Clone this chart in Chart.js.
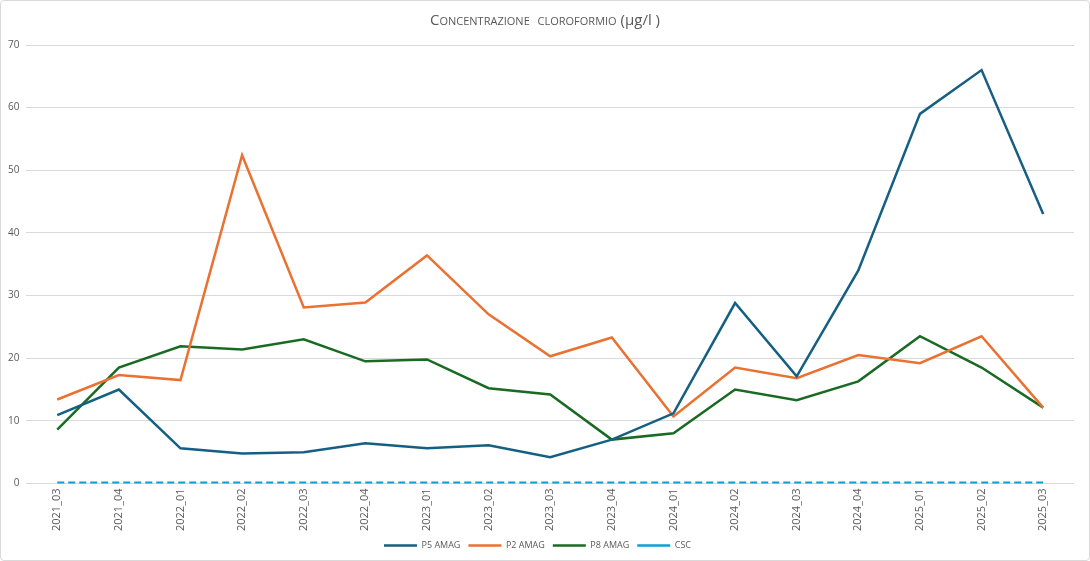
<!DOCTYPE html>
<html>
<head>
<meta charset="utf-8">
<script src="https://cdn.jsdelivr.net/npm/chart.js@4/dist/chart.umd.min.js"></script>
<style>
    html, body { margin: 0; padding: 0; background: #fff; }
    .chart-box {
        width: 1088px;
        height: 559px;
        border: 1px solid #d9d9d9;
        border-radius: 4px;
        position: relative;
    }
</style>
</head>
<body>
<div class="chart-box">
    <canvas id="chloroformChart"></canvas>
</div>
<script>
const categories = [
    '2021_03', '2021_04',
    '2022_01', '2022_02', '2022_03', '2022_04',
    '2023_01', '2023_02', '2023_03', '2023_04',
    '2024_01', '2024_02', '2024_03', '2024_04',
    '2025_01', '2025_02', '2025_03'
];

const p5Values = [10.9, 15.0, 5.6, 4.8, 5.0, 6.4, 5.6, 6.1, 4.2, 7.0, 11.2, 28.8, 17.1, 34.0, 59.0, 66.0, 43.0];
const p2Values = [13.4, 17.3, 16.5, 52.4, 28.1, 28.9, 36.4, 27.0, 20.3, 23.3, 10.7, 18.5, 16.8, 20.5, 19.2, 23.5, 12.1];
const p8Values = [8.6, 18.5, 21.9, 21.4, 23.0, 19.5, 19.8, 15.2, 14.2, 7.0, 8.0, 15.0, 13.3, 16.3, 23.5, 18.5, 12.1];
const cscValues = [0.1, 0.1, 0.1, 0.1, 0.1, 0.1, 0.1, 0.1, 0.1, 0.1, 0.1, 0.1, 0.1, 0.1, 0.1, 0.1, 0.1];

const yTicks = [0, 10, 20, 30, 40, 50, 60, 70];

const titleMain = 'Concentrazione  cloroformio ';
const titleUnit = '(µg/l )';

const textColor = '#595959';
const gridColor = '#d9d9d9';
const fontFamily = "'Open Sans', 'Liberation Sans', sans-serif";

function makeLine(label, data, color, dash) {
    return {
        label: label,
        data: data,
        borderColor: color,
        backgroundColor: color,
        borderWidth: 2.5,
        borderDash: dash || [],
        pointRadius: 0,
        pointHoverRadius: 0,
        tension: 0,
        fill: false
    };
}

// Title in small caps, but the unit stays lowercase like in the original
const mixedTitle = {
    id: 'mixedTitle',
    afterDraw(chart) {
        const ctx = chart.ctx;
        ctx.save();
        ctx.fillStyle = textColor;
        ctx.textBaseline = 'middle';
        ctx.textAlign = 'left';
        const capsFont = 'small-caps 15px ' + fontFamily;
        const plainFont = '15px ' + fontFamily;
        ctx.font = capsFont;
        const w1 = ctx.measureText(titleMain).width;
        ctx.font = plainFont;
        const w2 = ctx.measureText(titleUnit).width;
        let x = chart.width / 2 - (w1 + w2) / 2;
        const y = 20;
        ctx.font = capsFont;
        ctx.fillText(titleMain, x, y);
        ctx.font = plainFont;
        ctx.fillText(titleUnit, x + w1, y);
        ctx.restore();
    }
};

new Chart(document.getElementById('chloroformChart'), {
    type: 'line',
    data: {
        labels: categories,
        datasets: [
            makeLine('P5 AMAG', p5Values, '#156082'),
            makeLine('P2 AMAG', p2Values, '#E97132'),
            makeLine('P8 AMAG', p8Values, '#196B24'),
            makeLine('CSC', cscValues, '#0F9ED5', [7, 4])
        ]
    },
    options: {
        responsive: true,
        maintainAspectRatio: false,
        animation: false,
        layout: {
            padding: { top: 44, left: 0, right: 15, bottom: 0 }
        },
        plugins: {
            title: { display: false },
            legend: {
                position: 'bottom',
                labels: {
                    usePointStyle: true,
                    pointStyle: 'line',
                    pointStyleWidth: 33,
                    boxHeight: 9,
                    color: textColor,
                    font: { family: fontFamily, size: 9 },
                    padding: 8
                }
            },
            tooltip: { enabled: false }
        },
        scales: {
            y: {
                min: 0,
                max: 70,
                afterBuildTicks: (axis) => {
                    axis.ticks = yTicks.map(v => ({ value: v }));
                },
                border: { display: false },
                grid: { color: gridColor, lineWidth: 1, drawTicks: false },
                ticks: {
                    color: textColor,
                    font: { family: fontFamily, size: 10 },
                    padding: 7
                }
            },
            x: {
                offset: true,
                border: { display: false },
                grid: { display: false, drawTicks: false },
                // tighten the gap between the rotated labels and the legend
                afterFit: (axis) => { axis.height -= 3; },
                ticks: {
                    color: textColor,
                    font: { family: fontFamily, size: 11 },
                    minRotation: 90,
                    maxRotation: 90,
                    autoSkip: false,
                    padding: 5
                }
            }
        }
    },
    plugins: [mixedTitle]
});
</script>
</body>
</html>
